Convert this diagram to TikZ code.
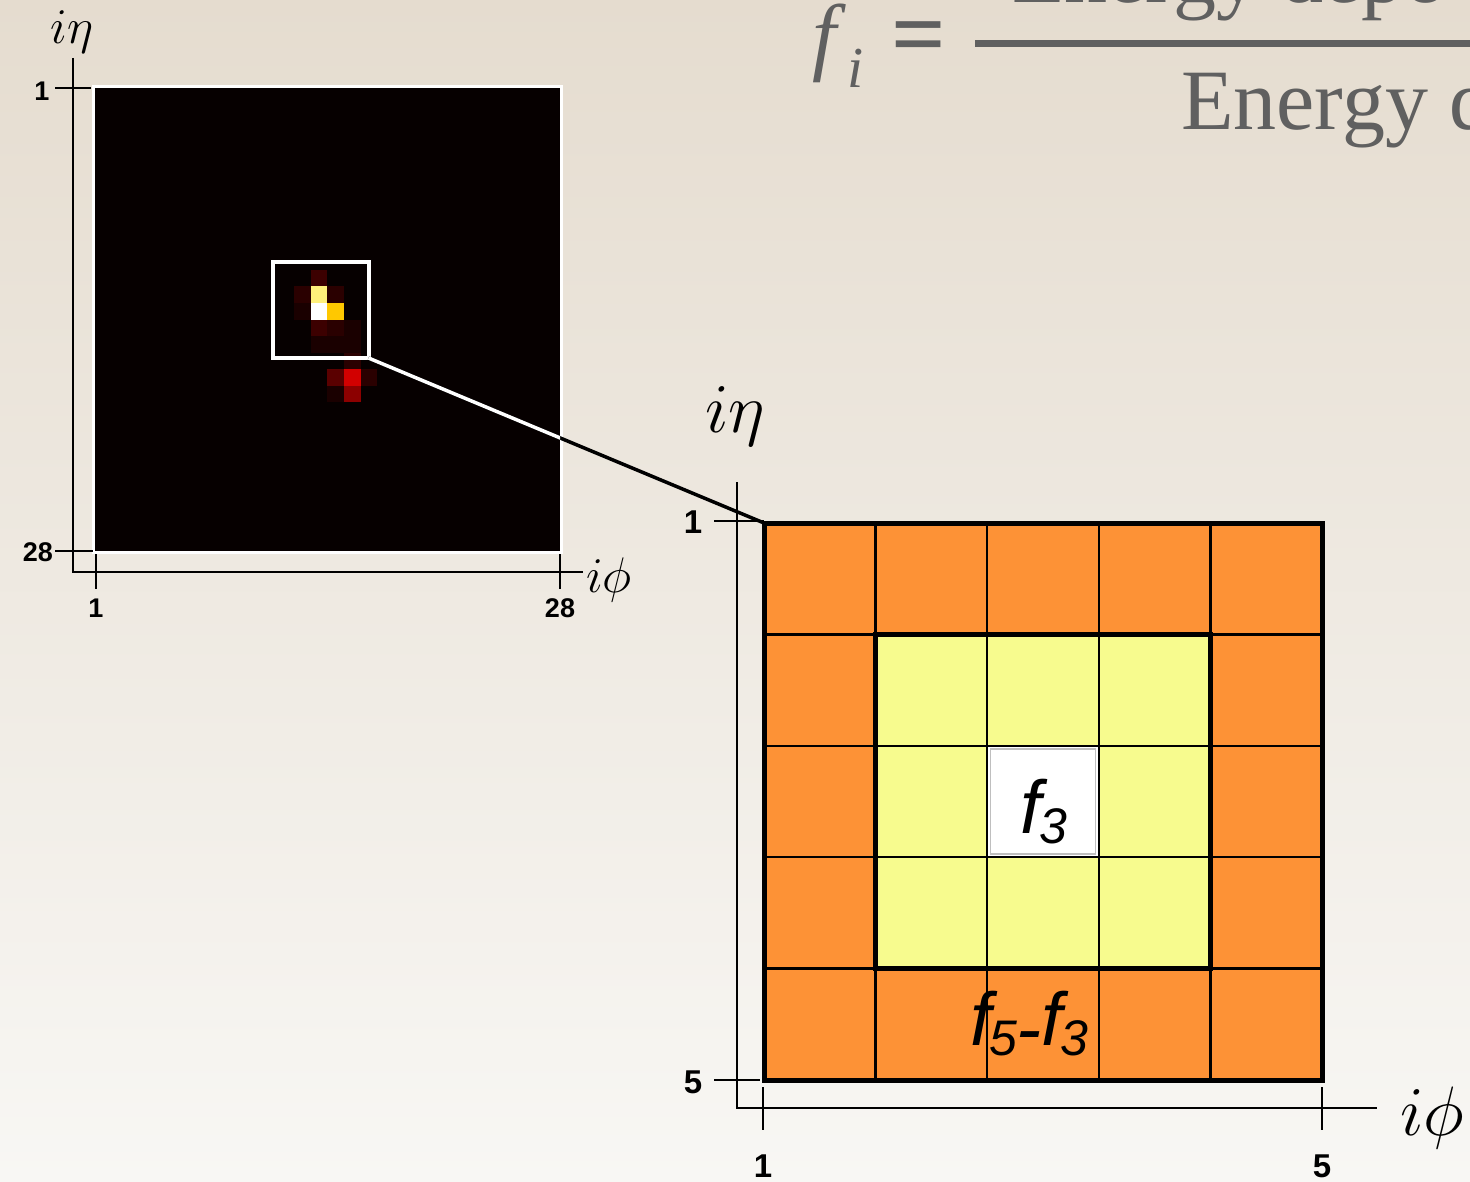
\RequirePackage{fix-cm}
\documentclass[tikz,border=0pt]{standalone}
\usepackage{fontspec}
\setmainfont{Liberation Serif}
\newfontfamily\lsans{Liberation Sans}
\definecolor{bgtop}{HTML}{E5DCCF}
\definecolor{bgmid}{HTML}{EFEBE4}
\definecolor{bgbot}{HTML}{F8F7F4}
\definecolor{hmblack}{HTML}{060000}
\definecolor{dA}{HTML}{3C0000}
\definecolor{dB}{HTML}{2A0000}
\definecolor{dC}{HTML}{1A0000}
\definecolor{dD}{HTML}{5A0000}
\definecolor{hred}{HTML}{D20000}
\definecolor{hdred}{HTML}{8C0000}
\definecolor{hyel}{HTML}{FFF07A}
\definecolor{horg}{HTML}{FFC800}
\definecolor{gorange}{HTML}{FD9236}
\definecolor{gyellow}{HTML}{F7FB8E}
\definecolor{fgray}{HTML}{606060}
\tikzset{
  numL/.style={font=\lsans\bfseries\fontsize{27}{27}\selectfont, inner sep=0},
  numR/.style={font=\lsans\bfseries\fontsize{33}{33}\selectfont, inner sep=0},
  axL/.style={font=\fontsize{50}{50}\selectfont, inner sep=0},
  axR/.style={font=\fontsize{70}{70}\selectfont, inner sep=0},
  axisline/.style={line width=2.2},
  formula/.style={text=fgray, inner sep=0, font=\fontsize{86}{86}\selectfont},
  flabel/.style={inner sep=0, font=\lsans\itshape\fontsize{75}{75}\selectfont},
}
\newcommand{\subdig}[1]{\raisebox{-10pt}{\fontsize{50}{50}\selectfont #1}}
\begin{document}
\begin{tikzpicture}[x=1pt,y=-1pt]
\useasboundingbox (0,0) rectangle (1470,1182);
\clip (0,0) rectangle (1470,1182);
\shade[top color=bgtop, middle color=bgmid, bottom color=bgbot] (0,0) rectangle (1470,1182);

% ---------- formula ----------
\node[formula, anchor=base west] (ff) at (812,65) {\itshape f};
\node[formula, anchor=base west, font=\fontsize{58}{58}\selectfont\itshape] (fi) at (847,88) {i};
\node[formula, anchor=center, font=\fontsize{96}{96}\selectfont\bfseries] (feq) at (919,44) {=};
\fill[fgray] (975,40.5) rectangle (1470,47);
\node[formula, anchor=base west] (fnum) at (1012,3) {Energy depo};
\node[formula, anchor=base west] (fden) at (1181,130) {Energy d};

% ---------- left heatmap ----------
\fill[hmblack] (95,88) rectangle (560,551);
\foreach \c/\r/\col in {13/11/dA, 12/12/dB, 13/12/hyel, 14/12/dB, 12/13/dC, 13/13/white, 14/13/horg,
  13/14/dA, 14/14/dB, 15/14/dC, 13/15/dC, 14/15/dC, 15/15/dC, 15/16/dB,
  14/17/dD, 15/17/hred, 16/17/dB, 14/18/dC, 15/18/hdred}
  \fill[\col] ({95+16.6*\c},{88+16.54*\r}) rectangle +(16.6,16.54);
\draw[white, line width=3] (93.5,86.5) rectangle (561.5,552.5);

% left axes
\draw[axisline] (73,58) -- (73,572) -- (583,572);
\draw[axisline] (55,88) -- (91,88);
\draw[axisline] (55,551) -- (93,551);
\draw[axisline] (96,554) -- (96,589);
\draw[axisline] (560,554) -- (560,589);
\node[numL] (l1) at (42,91) {1};
\node[numL] (l28) at (38,552) {28};
\node[numL] (b1) at (96,608) {1};
\node[numL] (b28) at (560,608) {28};
\node[axL] (leta) at (72,32) {$i\eta$};
\node[axL] (lphi) at (609,580) {$i\phi$};

% zoom box
\node[draw=white, line width=4, outer sep=0, minimum width=95.5, minimum height=96.3, inner sep=0, anchor=north west] (zoombox) at (273,261.7) {};

% ---------- right grid ----------
\fill[gorange] (764,523) rectangle (1322,1080);
\fill[gyellow] (875.6,634.4) rectangle (1210.4,968.6);
\fill[white] (987.2,745.8) rectangle (1098.8,857.2);
\draw[black!25, line width=1.5] (990.5,749) rectangle (1095.5,854);
\foreach \k in {1,2,3,4} {
  \draw[line width=2.5] ({764+111.6*\k},523) -- ({764+111.6*\k},1080);
  \draw[line width=2.5] (764,{523+111.4*\k}) -- (1322,{523+111.4*\k});
}
\draw[line width=4.5] (875.6,634.4) rectangle (1210.4,968.6);
\node[draw, line width=5, outer sep=0, minimum width=558, minimum height=557, inner sep=0, anchor=north west] (grid) at (764,523) {};

% connector
\draw[line width=3.5] (zoombox.south east) -- (grid.north west);
\begin{scope}
  \clip (95,88) rectangle (560,551);
  \draw[white, line width=3.5] (zoombox.south east) -- (grid.north west);
\end{scope}

% right axes
\draw[line width=2.5] (737,482) -- (737,1108) -- (1377,1108);
\draw[line width=2.5] (714,521) -- (764,521);
\draw[line width=2.5] (714,1080) -- (760,1080);
\draw[line width=2.5] (763,1087) -- (763,1130);
\draw[line width=2.5] (1322,1087) -- (1322,1130);
\node[numR] (r1) at (693,522) {1};
\node[numR] (r5) at (693,1082) {5};
\node[numR] (rb1) at (763,1166) {1};
\node[numR] (rb5) at (1322,1166) {5};
\node[axR] (reta) at (735,416) {$i\eta$};
\node[axR] (rphi) at (1432,1118) {$i\phi$};

% cell labels
\node[flabel, anchor=base west] (f3) at (1020,833) {f\kern-2pt\subdig{3}};
\node[flabel, anchor=base west] (f53) at (970,1045) {f\kern-2pt\subdig{5}\raisebox{-9pt}{-}f\kern-2pt\subdig{3}};
\end{tikzpicture}
\end{document}
